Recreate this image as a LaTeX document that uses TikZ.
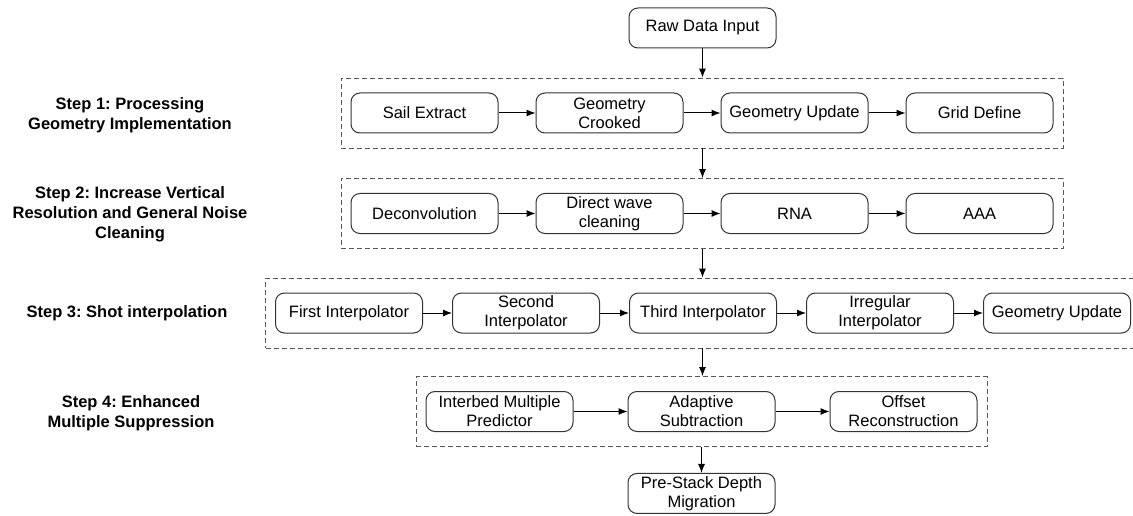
\documentclass[tikz,border=0pt]{standalone}
\usepackage{fontspec}
\setmainfont{Liberation Sans}
\usetikzlibrary{arrows.meta, positioning, fit}
\definecolor{bordeCaja}{gray}{0.2}
\definecolor{bordeGrupo}{gray}{0.35}
\frenchspacing

\begin{document}
\begin{tikzpicture}[
  font=\fontsize{16.5pt}{19pt}\selectfont,
  proceso/.style={draw=bordeCaja, line width=1pt, rounded corners=9pt,
                  minimum width=147pt, minimum height=40pt,
                  align=center, inner sep=2pt},
  grupo/.style={draw=bordeGrupo, line width=0.9pt, dash pattern=on 5pt off 3pt,
                inner xsep=9.5pt, inner ysep=14.5pt},
  etapa/.style={font=\fontsize{16.5pt}{20pt}\selectfont\bfseries, align=center},
  flecha/.style={-{Latex[length=9pt, width=7pt]}, line width=1pt}
]
\useasboundingbox (0,0) rectangle (1133pt,-516pt);

\node[proceso] (raw) at (702.5pt,-28pt) {Raw Data Input};

% paso 1
\node[proceso] (sail) at (424.5pt,-113pt) {Sail Extract};
\node[proceso, right=37pt of sail] (crooked) {Geometry\\ Crooked};
\node[proceso, right=37pt of crooked] (update1) {Geometry Update};
\node[proceso, right=37pt of update1] (grid) {Grid Define};
\node[grupo, fit=(sail)(grid)] (g1) {};

% paso 2
\node[proceso] (deconv) at (424.5pt,-213.5pt) {Deconvolution};
\node[proceso, right=37pt of deconv] (direct) {Direct wave\\ cleaning};
\node[proceso, right=37pt of direct] (rna) {RNA};
\node[proceso, right=37pt of rna] (aaa) {AAA};
\node[grupo, fit=(deconv)(aaa)] (g2) {};

% paso 3
\node[proceso] (first) at (349pt,-313pt) {First Interpolator};
\node[proceso, right=29pt of first] (second) {Second\\ Interpolator};
\node[proceso, right=29pt of second] (third) {Third Interpolator};
\node[proceso, right=29pt of third] (irregular) {Irregular\\ Interpolator};
\node[proceso, right=29pt of irregular] (update2) {Geometry Update};
\node[grupo, fit=(first)(update2)] (g3) {};

% paso 4
\node[proceso] (interbed) at (499.5pt,-411.5pt) {Interbed Multiple\\ Predictor};
\node[proceso, right=54pt of interbed] (adaptive) {Adaptive\\ Subtraction};
\node[proceso, right=54pt of adaptive] (offset) {Offset\\ Reconstruction};
\node[grupo, fit=(interbed)(offset)] (g4) {};

\node[proceso, below=26pt of g4] (psdm) {Pre-Stack Depth\\ Migration};

% etiquetas
\node[etapa] (e1) at (130pt,-115pt) {Step 1: Processing\\ Geometry Implementation};
\node[etapa] (e2) at (130pt,-214pt) {Step 2: Increase Vertical\\ Resolution and General Noise\\ Cleaning};
\node[etapa] (e3) at (127pt,-313pt) {Step 3: Shot interpolation};
\node[etapa] (e4) at (131pt,-413pt) {Step 4: Enhanced\\ Multiple Suppression};

% flechas
\draw[flecha] (raw) -- (raw |- g1.north);
\draw[flecha] (sail) -- (crooked);
\draw[flecha] (crooked) -- (update1);
\draw[flecha] (update1) -- (grid);
\draw[flecha] (g1.south -| raw) -- (g2.north -| raw);
\draw[flecha] (deconv) -- (direct);
\draw[flecha] (direct) -- (rna);
\draw[flecha] (rna) -- (aaa);
\draw[flecha] (g2.south -| raw) -- (g3.north -| raw);
\draw[flecha] (first) -- (second);
\draw[flecha] (second) -- (third);
\draw[flecha] (third) -- (irregular);
\draw[flecha] (irregular) -- (update2);
\draw[flecha] (g3.south -| raw) -- (g4.north -| raw);
\draw[flecha] (interbed) -- (adaptive);
\draw[flecha] (adaptive) -- (offset);
\draw[flecha] (g4.south -| psdm) -- (psdm);

\end{tikzpicture}
\end{document}
